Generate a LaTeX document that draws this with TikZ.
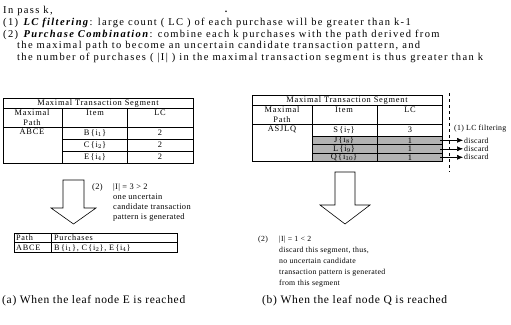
\documentclass[tikz,border=0pt]{standalone}
\usepackage{fontspec}
\setmainfont{Liberation Serif}
\newfontfamily\hdrfont[LetterSpace=13]{Liberation Serif}
\newfontfamily\tblfont[LetterSpace=9]{Liberation Serif}
\newfontfamily\sidefont[LetterSpace=4]{Liberation Serif}
\newfontfamily\capfont[LetterSpace=6]{Liberation Serif}
\usetikzlibrary{arrows.meta}
\begin{document}
\begin{tikzpicture}[x=1pt,y=-1pt,
  hdr/.style={anchor=base west,inner sep=0pt,font=\hdrfont\fontsize{10.5}{11}\selectfont},
  tbl/.style={inner sep=0pt,font=\tblfont\fontsize{8.4}{9.5}\selectfont},
  btbl/.style={anchor=base west,inner sep=0pt,font=\tblfont\fontsize{8.2}{9.5}\selectfont},
  side/.style={anchor=base west,inner sep=0pt,font=\sidefont\fontsize{7.8}{9}\selectfont},
  lside/.style={anchor=base west,inner sep=0pt,font=\sidefont\fontsize{8.4}{9}\selectfont},
  captext/.style={anchor=base west,inner sep=0pt,font=\capfont\fontsize{11.5}{13}\selectfont},
  grid/.style={line width=0.6pt},
  shade/.style={fill=black!30},
  bigarrow/.style={draw,line width=0.6pt,fill=white},
  disc/.style={-{Latex[length=6pt,width=5pt]},line width=0.5pt}]
\useasboundingbox (0,0) rectangle (511,324);
% header text
\node[hdr] (l1) at (3,13.5) {In pass k,};
\node[inner sep=0pt,font=\bfseries] (dot) at (226,12) {.};
\node[hdr] (l2) at (3,25.5) {(1) \textbf{\textit{LC filtering}}: large count ( LC ) of each purchase will be greater than k-1};
\node[hdr] (l3) at (3,37) {(2) \textbf{\textit{Purchase Combination}}: combine each k purchases with the path derived from};
\node[hdr] (l4) at (17,48.5) {the maximal path to become an uncertain candidate transaction pattern, and};
\node[hdr] (l5) at (17,60) {the number of purchases ( |I| ) in the maximal transaction segment is thus greater than k};
% left table
\draw[grid] (3,98) rectangle (193,163);
\draw[grid] (3,108) -- (193,108);
\draw[grid] (3,127) -- (193,127);
\draw[grid] (62,108) -- (62,163);
\draw[grid] (127,108) -- (127,163);
\draw[grid] (62,139) -- (193,139);
\draw[grid] (62,151) -- (193,151);
\node[tbl] (lth) at (98,103) {Maximal Transaction Segment};
\node[tbl,align=center] (ltp) at (32,117.5) {Maximal\\Path};
\node[tbl] (lti) at (95,113) {Item};
\node[tbl] (ltl) at (160,113) {LC};
\node[tbl] (ltabce) at (32,132) {ABCE};
\node[tbl] (ltb) at (95,133) {B\,\{i$_1$\}};
\node[tbl] (ltc) at (95,145) {C\,\{i$_2$\}};
\node[tbl] (lte) at (95,157) {E\,\{i$_4$\}};
\node[tbl] (ltb2) at (160,133) {2};
\node[tbl] (ltc2) at (160,145) {2};
\node[tbl] (lte2) at (160,157) {2};
% right table
\fill[shade] (312,136) rectangle (442,161.5);
\draw[grid] (252,95) rectangle (442,161.5);
\draw[grid] (252,105) -- (442,105);
\draw[grid] (252,124) -- (442,124);
\draw[grid] (312,105) -- (312,161.5);
\draw[grid] (377,105) -- (377,161.5);
\draw[grid] (312,136) -- (442,136);
\draw[grid] (312,144.5) -- (442,144.5);
\draw[grid] (312,153) -- (442,153);
\node[tbl] (rth) at (347,100) {Maximal Transaction Segment};
\node[tbl,align=center] (rtp) at (282,114.5) {Maximal\\Path};
\node[tbl] (rti) at (344,110) {Item};
\node[tbl] (rtl) at (410,110) {LC};
\node[tbl] (rtasj) at (282,129.5) {ASJLQ};
\node[tbl] (rts) at (344,130) {S\,\{i$_7$\}};
\node[tbl] (rtj) at (344,140.3) {J\,\{i$_8$\}};
\node[tbl] (rtlq) at (344,148.8) {L\,\{i$_9$\}};
\node[tbl] (rtq) at (344,157.3) {Q\,\{i$_{10}$\}};
\node[tbl] (rts2) at (410,130) {3};
\node[tbl] (rtj2) at (410,140.3) {1};
\node[tbl] (rtl2) at (410,148.8) {1};
\node[tbl] (rtq2) at (410,157.3) {1};
\coordinate (dtop) at (449,93);
\coordinate (dbot) at (449,172);
\draw[dashed,line width=0.5pt] (dtop) -- (dbot);
\node[side] (lcf) at (454,130) {(1) LC filtering};
\node[side] (d1) at (464,143) {discard};
\node[side] (d2) at (464,151.5) {discard};
\node[side] (d3) at (464,159.5) {discard};
\coordinate (s1) at (440,140.3);
\coordinate (s2) at (440,148.8);
\coordinate (s3) at (440,157.3);
\draw[disc] (s1) -- ([xshift=-1pt]d1.west |- s1);
\draw[disc] (s2) -- ([xshift=-1pt]d2.west |- s2);
\draw[disc] (s3) -- ([xshift=-1pt]d3.west |- s3);
% left arrow
\draw[bigarrow] (63,180) -- (84,180) -- (84,208) -- (96,208) -- (73.5,224) -- (51,208) -- (63,208) -- cycle;
\node[lside] (lt0) at (92,189) {(2)};
\node[lside] (lt1) at (113,189) {|I| = 3 > 2};
\node[lside] (lt2) at (113,199) {one uncertain};
\node[lside] (lt3) at (113,209) {candidate transaction};
\node[lside] (lt4) at (113,219) {pattern is generated};
% bottom-left table
\draw[line width=0.8pt] (14,233) rectangle (177,252);
\draw[line width=0.8pt] (14,242.5) -- (177,242.5);
\draw[line width=0.6pt] (51,233) -- (51,252);
\node[btbl] (bp) at (16,240.5) {Path};
\node[btbl] (bpu) at (54,240.5) {Purchases};
\node[btbl] (ba) at (16,250) {ABCE};
\node[btbl] (bb) at (54,250) {B\,\{i$_1$\}, C\,\{i$_2$\}, E\,\{i$_4$\}};
% right arrow
\draw[bigarrow] (335,172) -- (355,172) -- (355,205) -- (370,205) -- (345,224) -- (320,205) -- (335,205) -- cycle;
\node[side] (rt0) at (258,241) {(2)};
\node[side] (rt1) at (279,241) {|I| = 1 < 2};
\node[side] (rt2) at (279,252) {discard this segment, thus,};
\node[side] (rt3) at (279,263) {no uncertain candidate};
\node[side] (rt4) at (279,274) {transaction pattern is generated};
\node[side] (rt5) at (279,285) {from this segment};
% captions
\node[captext] (capa) at (2,303) {(a) When the leaf node E is reached};
\node[captext] (capb) at (262,303) {(b) When the leaf node Q is reached};
\end{tikzpicture}
\end{document}
